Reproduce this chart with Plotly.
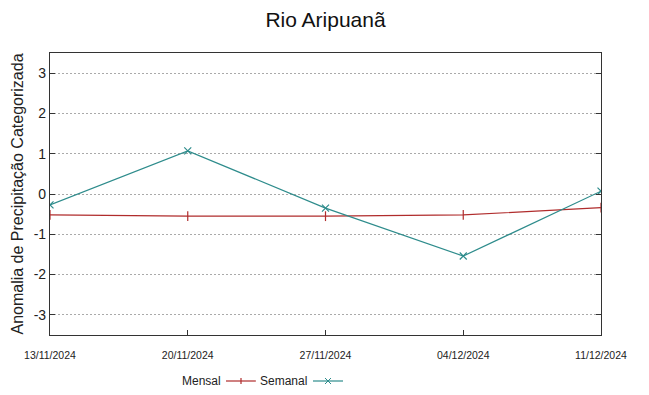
import plotly.graph_objects as go

dates = ["2024-11-13", "2024-11-20", "2024-11-27", "2024-12-04", "2024-12-11"]
tick_labels = ["13/11/2024", "20/11/2024", "27/11/2024", "04/12/2024", "11/12/2024"]
y_ticks = [-3, -2, -1, 0, 1, 2, 3]
y_tick_labels = ["-3", "-2", "-1", "0", "1", "2", "3"]
mensal = [-0.52, -0.55, -0.55, -0.52, -0.34]
semanal = [-0.27, 1.07, -0.35, -1.54, 0.07]

RED = "#b02c2c"
TEAL = "#2e8c8c"

# page body has an 8px margin; compensate so the plot sits like the reference
OFF = 8
FW, FH = 649 - OFF, 395 - OFF
W, H = 551.0, 282.0
ML, MT = 50 - OFF, 53 - OFF
MR, MB = FW - ML - int(W), FH - MT - int(H)

fig = go.Figure()
fig.add_trace(go.Scatter(x=dates, y=mensal, name="Mensal", mode="lines+markers",
                         line=dict(color=RED, width=1.2),
                         marker=dict(symbol="line-ns-open", size=7, color=RED,
                                     line=dict(width=1.2, color=RED))))
fig.add_trace(go.Scatter(x=dates, y=semanal, name="Semanal", mode="lines+markers",
                         line=dict(color=TEAL, width=1.2),
                         marker=dict(symbol="x-thin-open", size=7, color=TEAL,
                                     line=dict(width=1.2, color=TEAL))))


def px(x):
    return (x - 50) / W


def py(y):
    return (335 - y) / H


# manual legend (text left of sample, gnuplot style)
ly = py(381)
shapes = []
annotations = []
for name, color, t_right, s0, s1, sym in [("Mensal", RED, 221, 226, 256, "+"),
                                           ("Semanal", TEAL, 307, 313, 343, "x")]:
    annotations.append(dict(text=name, x=px(t_right), y=ly, xref="paper", yref="paper",
                            xanchor="right", yanchor="middle", showarrow=False,
                            xshift=2, font=dict(size=12, color="#222")))
    shapes.append(dict(type="line", xref="paper", yref="paper", x0=px(s0), x1=px(s1),
                       y0=ly, y1=ly, line=dict(color=color, width=1.2)))
    m = (s0 + s1) / 2
    if sym == "+":
        shapes.append(dict(type="line", xref="paper", yref="paper", x0=px(m), x1=px(m),
                           y0=py(378), y1=py(384), line=dict(color=color, width=1.2)))
    else:
        shapes.append(dict(type="line", xref="paper", yref="paper", x0=px(m - 3), x1=px(m + 3),
                           y0=py(378), y1=py(384), line=dict(color=color, width=1)))
        shapes.append(dict(type="line", xref="paper", yref="paper", x0=px(m - 3), x1=px(m + 3),
                           y0=py(384), y1=py(378), line=dict(color=color, width=1)))

fig.update_layout(
    width=FW, height=FH,
    margin=dict(l=ML, r=MR, t=MT, b=MB, autoexpand=False),
    paper_bgcolor="white", plot_bgcolor="white",
    title=dict(text="Rio Aripuanã", x=0.5, xanchor="center", xref="paper",
               yref="container", y=1 - (20 - OFF) / FH, yanchor="middle",
               font=dict(family="Liberation Sans, Arial", size=21, color="#111")),
    font=dict(family="Liberation Sans, Arial", color="#222"),
    showlegend=False,
    shapes=shapes,
    annotations=annotations,
)
fig.update_xaxes(
    type="date", range=[dates[0], dates[-1]],
    tickvals=dates, ticktext=tick_labels,
    showgrid=False, showline=True, linecolor="#333", linewidth=1.2, mirror=True,
    ticks="inside", ticklen=5, tickcolor="#333",
    tickfont=dict(size=10.5), ticklabelstandoff=10,
    zeroline=False, automargin=False,
)
fig.update_yaxes(
    range=[-3.5, 3.5], tickvals=y_ticks, ticktext=y_tick_labels,
    showgrid=True, gridcolor="#aaaaaa", griddash="2px,2px", gridwidth=1,
    showline=True, linecolor="#333", linewidth=1.2, mirror="ticks",
    ticks="inside", ticklen=5, tickcolor="#333",
    tickfont=dict(size=14),
    zeroline=False, automargin=False,
    title=dict(text="Anomalia de Precipitação Categorizada", font=dict(size=16), standoff=6),
)
fig.write_html("out.html")
